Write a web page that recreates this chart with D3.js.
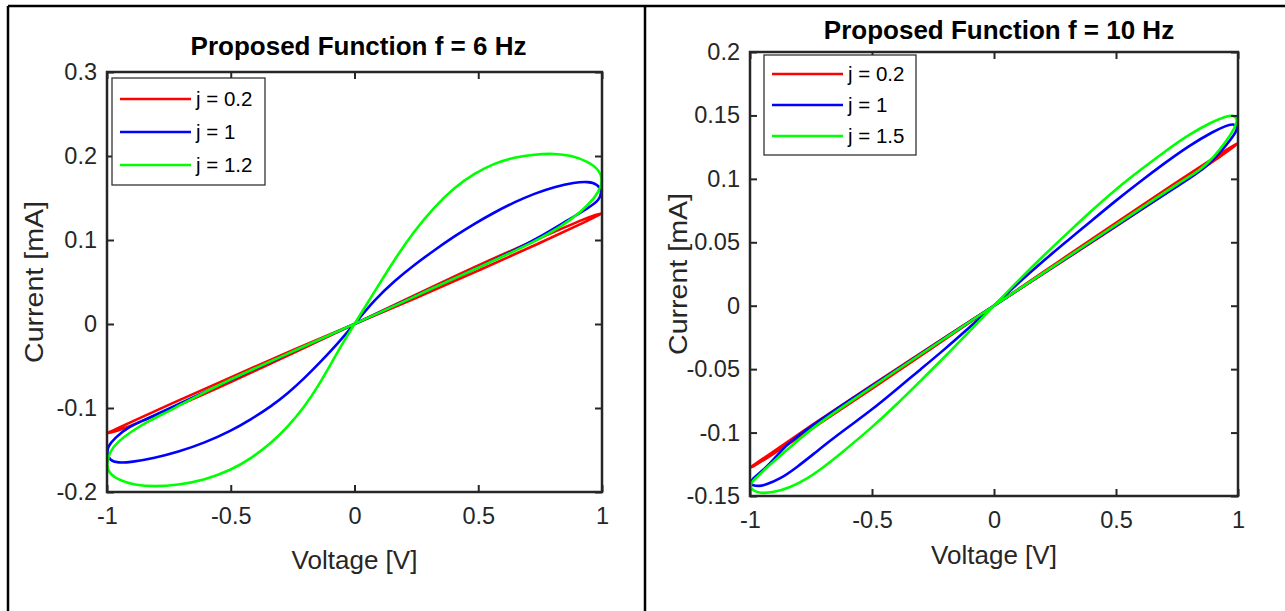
<!DOCTYPE html>
<html>
<head>
<meta charset="utf-8">
<script src="https://cdn.jsdelivr.net/npm/d3@7"></script>
<style>
  body { margin: 0; background: #fff; }
  svg { display: block; font-family: "Liberation Sans", Arial, Helvetica, sans-serif; }
</style>
</head>
<body>
<div id="container"></div>
<script>
// tick values + labels
var xTicks = [-1, -0.5, 0, 0.5, 1];
var xTickLabels = ["-1", "-0.5", "0", "0.5", "1"];
var yTicks6 = [-0.2, -0.1, 0, 0.1, 0.2, 0.3];
var yTickLabels6 = ["-0.2", "-0.1", "0", "0.1", "0.2", "0.3"];
var yTicks10 = [-0.15, -0.1, -0.05, 0, 0.05, 0.1, 0.15, 0.2];
var yTickLabels10 = ["-0.15", "-0.1", "-0.05", "0", "0.05", "0.1", "0.15", "0.2"];

var legend6 = ["j = 0.2", "j = 1", "j = 1.2"];
var legend10 = ["j = 0.2", "j = 1", "j = 1.5"];
var colors = ["#ff0000", "#0000ff", "#00ff00"];

// loops, [voltage, current], in time order
// f = 6 Hz
var f6_j02 = [[0, 0], [0.25, 0.0352], [0.5, 0.0702], [0.75, 0.1025], [0.95, 0.128], [0.99, 0.1312], [1, 0.1317],
    [0.99, 0.1302], [0.95, 0.124], [0.75, 0.0965], [0.5, 0.0635], [0.25, 0.031], [0, 0],
    [-0.25, -0.031], [-0.5, -0.0635], [-0.75, -0.096], [-0.95, -0.123], [-0.99, -0.1288], [-1, -0.130],
    [-0.99, -0.1296], [-0.95, -0.127], [-0.75, -0.102], [-0.5, -0.0695], [-0.25, -0.035]];
var f6_j1 = [[0, 0], [0.081, 0.0288], [0.162, 0.0515], [0.242, 0.0705], [0.323, 0.088], [0.404, 0.1045],
    [0.485, 0.1195], [0.566, 0.133], [0.646, 0.145], [0.727, 0.1553], [0.808, 0.1633], [0.889, 0.1685],
    [0.943, 0.1696], [0.983, 0.1665], [1.0, 0.1575],
    [0.99, 0.1476], [0.943, 0.1377], [0.862, 0.1238], [0.75, 0.1035], [0.6, 0.081], [0.45, 0.0605],
    [0.3, 0.0405], [0.15, 0.0202], [0, 0],
    [-0.15, -0.0198], [-0.3, -0.0398], [-0.45, -0.0598], [-0.6, -0.08], [-0.75, -0.101], [-0.85, -0.1145],
    [-0.916, -0.123], [-0.97, -0.136], [-0.997, -0.146],
    [-1.0, -0.154], [-0.99, -0.162], [-0.956, -0.1655], [-0.902, -0.1645], [-0.808, -0.1595], [-0.714, -0.1525],
    [-0.606, -0.1415], [-0.498, -0.127], [-0.418, -0.1135], [-0.337, -0.098], [-0.269, -0.0825],
    [-0.202, -0.0645], [-0.135, -0.0445], [-0.067, -0.023]];
var f6_j12 = [[0, 0], [0.081, 0.0385], [0.162, 0.077], [0.242, 0.111], [0.323, 0.1395], [0.404, 0.1625],
    [0.485, 0.1795], [0.566, 0.1915], [0.646, 0.1985], [0.727, 0.202], [0.808, 0.203], [0.875, 0.2008],
    [0.943, 0.1935], [0.99, 0.183], [1.0, 0.173],
    [0.997, 0.1635], [0.97, 0.1496], [0.916, 0.1337], [0.835, 0.1159], [0.727, 0.098], [0.6, 0.0805],
    [0.45, 0.0605], [0.3, 0.0405], [0.15, 0.020], [0, 0],
    [-0.15, -0.0195], [-0.3, -0.0395], [-0.45, -0.059], [-0.6, -0.08], [-0.741, -0.1024], [-0.835, -0.116],
    [-0.902, -0.128], [-0.956, -0.14], [-0.99, -0.152], [-1.0, -0.166],
    [-0.997, -0.1758], [-0.956, -0.1857], [-0.889, -0.1917], [-0.808, -0.1937], [-0.714, -0.1917],
    [-0.606, -0.1857], [-0.498, -0.1738], [-0.418, -0.16], [-0.337, -0.142], [-0.269, -0.1222],
    [-0.202, -0.0984], [-0.148, -0.0746], [-0.094, -0.0468], [-0.04, -0.019]];

// f = 10 Hz
var f10_j02 = [[0, 0], [0.25, 0.033], [0.5, 0.0655], [0.75, 0.0975], [0.95, 0.1228], [0.99, 0.1272], [1, 0.128],
    [0.99, 0.1264], [0.95, 0.1205], [0.75, 0.0945], [0.5, 0.0625], [0.25, 0.031], [0, 0],
    [-0.25, -0.031], [-0.5, -0.0625], [-0.75, -0.0945], [-0.95, -0.121], [-0.99, -0.1262], [-1, -0.1275],
    [-0.99, -0.127], [-0.95, -0.1225], [-0.75, -0.0975], [-0.5, -0.0655], [-0.25, -0.033]];
var f10_j1 = [[0, 0], [0.1, 0.018], [0.2, 0.035], [0.3, 0.051], [0.4, 0.067], [0.5, 0.083], [0.6, 0.098],
    [0.7, 0.1125], [0.8, 0.1262], [0.9, 0.1375], [0.95, 0.1418], [0.981, 0.1436], [1, 0.1406],
    [0.988, 0.1354], [0.94, 0.1236], [0.872, 0.109], [0.75, 0.094], [0.6, 0.0755], [0.4, 0.0505],
    [0.2, 0.0252], [0, 0],
    [-0.2, -0.0252], [-0.4, -0.0505], [-0.6, -0.0755], [-0.75, -0.095], [-0.85, -0.109],
    [-0.918, -0.1249], [-0.966, -0.1327], [-0.99, -0.1365], [-1, -0.1398],
    [-0.99, -0.1418], [-0.96, -0.1422], [-0.94, -0.1415], [-0.877, -0.1367], [-0.809, -0.1275], [-0.74, -0.117],
    [-0.672, -0.1065], [-0.6, -0.096], [-0.5, -0.082], [-0.4, -0.066], [-0.3, -0.05], [-0.2, -0.034],
    [-0.1, -0.017]];
var f10_j15 = [[0, 0], [0.1, 0.02], [0.2, 0.039], [0.3, 0.057], [0.4, 0.075], [0.5, 0.092], [0.6, 0.107],
    [0.7, 0.1215], [0.8, 0.1352], [0.9, 0.1455], [0.95, 0.1492], [0.981, 0.1504], [1, 0.147],
    [0.988, 0.1406], [0.954, 0.130], [0.9, 0.117], [0.844, 0.1065], [0.762, 0.0975], [0.6, 0.0765],
    [0.4, 0.051], [0.2, 0.0255], [0, 0],
    [-0.2, -0.0255], [-0.4, -0.051], [-0.6, -0.077], [-0.75, -0.097], [-0.85, -0.114],
    [-0.932, -0.1275], [-0.973, -0.1354], [-0.993, -0.139], [-1, -0.1425],
    [-0.989, -0.1456], [-0.959, -0.148], [-0.904, -0.1472], [-0.836, -0.1433], [-0.768, -0.1367],
    [-0.7, -0.1275], [-0.631, -0.117], [-0.5, -0.096], [-0.4, -0.078], [-0.3, -0.059], [-0.2, -0.04],
    [-0.1, -0.02]];

var W = 1285, H = 611;

var svg = d3.select("#container").append("svg")
    .attr("width", W)
    .attr("height", H);

// outer table-like frame
var frame = svg.append("g").attr("stroke", "#000").attr("stroke-width", 2.5);
frame.append("line").attr("x1", 8).attr("x2", W).attr("y1", 6).attr("y2", 6);
frame.append("line").attr("x1", 8).attr("x2", 8).attr("y1", 6).attr("y2", H);
frame.append("line").attr("x1", 645).attr("x2", 645).attr("y1", 6).attr("y2", H);

function drawPanel(p) {
    var x = d3.scaleLinear().domain([-1, 1]).range([p.left, p.right]);
    var y = d3.scaleLinear().domain(p.yDomain).range([p.bottom, p.top]);
    var g = svg.append("g");

    // curves (b-spline smooths out the reading noise)
    var line = d3.line()
        .x(function (d) { return x(d[0]); })
        .y(function (d) { return y(d[1]); })
        .curve(d3.curveBasisClosed);

    g.append("g").selectAll("path")
        .data(p.series)
        .enter().append("path")
        .attr("d", function (d) { return line(d); })
        .attr("fill", "none")
        .attr("stroke", function (d, i) { return colors[i]; })
        .attr("stroke-width", 2.6)
        .attr("stroke-linejoin", "round");

    // axes, ticks inside like matlab
    var fmtX = function (d, i) { return xTickLabels[i]; };
    var fmtY = function (d, i) { return p.yLabels[i]; };

    var ax = [
        g.append("g").attr("transform", "translate(0," + p.bottom + ")")
            .call(d3.axisBottom(x).tickValues(xTicks).tickSizeInner(-7).tickSizeOuter(0).tickPadding(15).tickFormat(fmtX)),
        g.append("g").attr("transform", "translate(0," + p.top + ")")
            .call(d3.axisTop(x).tickValues(xTicks).tickSizeInner(-7).tickSizeOuter(0).tickFormat("")),
        g.append("g").attr("transform", "translate(" + p.left + ",0)")
            .call(d3.axisLeft(y).tickValues(p.yTicks).tickSizeInner(-7).tickSizeOuter(0).tickPadding(10).tickFormat(fmtY)),
        g.append("g").attr("transform", "translate(" + p.right + ",0)")
            .call(d3.axisRight(y).tickValues(p.yTicks).tickSizeInner(-7).tickSizeOuter(0).tickFormat(""))
    ];
    ax.forEach(function (a) {
        a.select(".domain").remove();
        a.selectAll(".tick line").attr("stroke", "#262626").attr("stroke-width", 2);
        a.selectAll(".tick text").attr("fill", "#262626").style("font-size", "23.5px");
    });

    g.append("rect")
        .attr("x", p.left).attr("y", p.top)
        .attr("width", p.right - p.left).attr("height", p.bottom - p.top)
        .attr("fill", "none").attr("stroke", "#262626").attr("stroke-width", 2.5);

    // title and labels
    g.append("text")
        .attr("x", (p.left + p.right) / 2 + p.titleDx).attr("y", p.titleY)
        .attr("text-anchor", "middle")
        .style("font-size", "26px").style("font-weight", "bold")
        .attr("fill", "#000")
        .text(p.title);

    g.append("text")
        .attr("x", (p.left + p.right) / 2).attr("y", p.xLabelY)
        .attr("text-anchor", "middle")
        .style("font-size", "26px")
        .attr("fill", "#262626")
        .text("Voltage [V]");

    g.append("text")
        .attr("transform", "translate(" + p.yLabelX + "," + p.yLabelY + ") rotate(-90)")
        .attr("text-anchor", "middle")
        .attr("textLength", 162)
        .attr("lengthAdjust", "spacingAndGlyphs")
        .style("font-size", "26.5px")
        .attr("fill", "#262626")
        .text("Current [mA]");

    // legend
    var lg = g.append("g").attr("transform", "translate(" + p.legX + "," + p.legY + ")");
    lg.append("rect")
        .attr("width", p.legW).attr("height", p.legH)
        .attr("fill", "#fff").attr("stroke", "#333").attr("stroke-width", 1.3);
    var item = lg.selectAll(".item")
        .data(p.legend)
        .enter().append("g")
        .attr("class", "item")
        .attr("transform", function (d, i) { return "translate(0," + (p.legRow0 + i * p.legStep) + ")"; });
    item.append("line")
        .attr("x1", 8).attr("x2", 79)
        .attr("stroke", function (d, i) { return colors[i]; })
        .attr("stroke-width", 2.6);
    item.append("text")
        .attr("x", 84).attr("dy", "0.35em")
        .style("font-size", "20.5px")
        .attr("fill", "#000")
        .text(function (d) { return d; });
}

drawPanel({
    left: 107, right: 602, top: 72, bottom: 492,
    yDomain: [-0.2, 0.3], yTicks: yTicks6, yLabels: yTickLabels6,
    series: [f6_j02, f6_j1, f6_j12],
    title: "Proposed Function f = 6 Hz", titleY: 55, titleDx: 4,
    xLabelY: 569, yLabelX: 43, yLabelY: 282,
    legend: legend6, legX: 112, legY: 78, legW: 153, legH: 107, legRow0: 21, legStep: 33
});

drawPanel({
    left: 750, right: 1238, top: 52, bottom: 496,
    yDomain: [-0.15, 0.2], yTicks: yTicks10, yLabels: yTickLabels10,
    series: [f10_j02, f10_j1, f10_j15],
    title: "Proposed Function f = 10 Hz", titleY: 39, titleDx: 5,
    xLabelY: 564, yLabelX: 687, yLabelY: 274,
    legend: legend10, legX: 764, legY: 55, legW: 152, legH: 100, legRow0: 19, legStep: 31
});
</script>
</body>
</html>
